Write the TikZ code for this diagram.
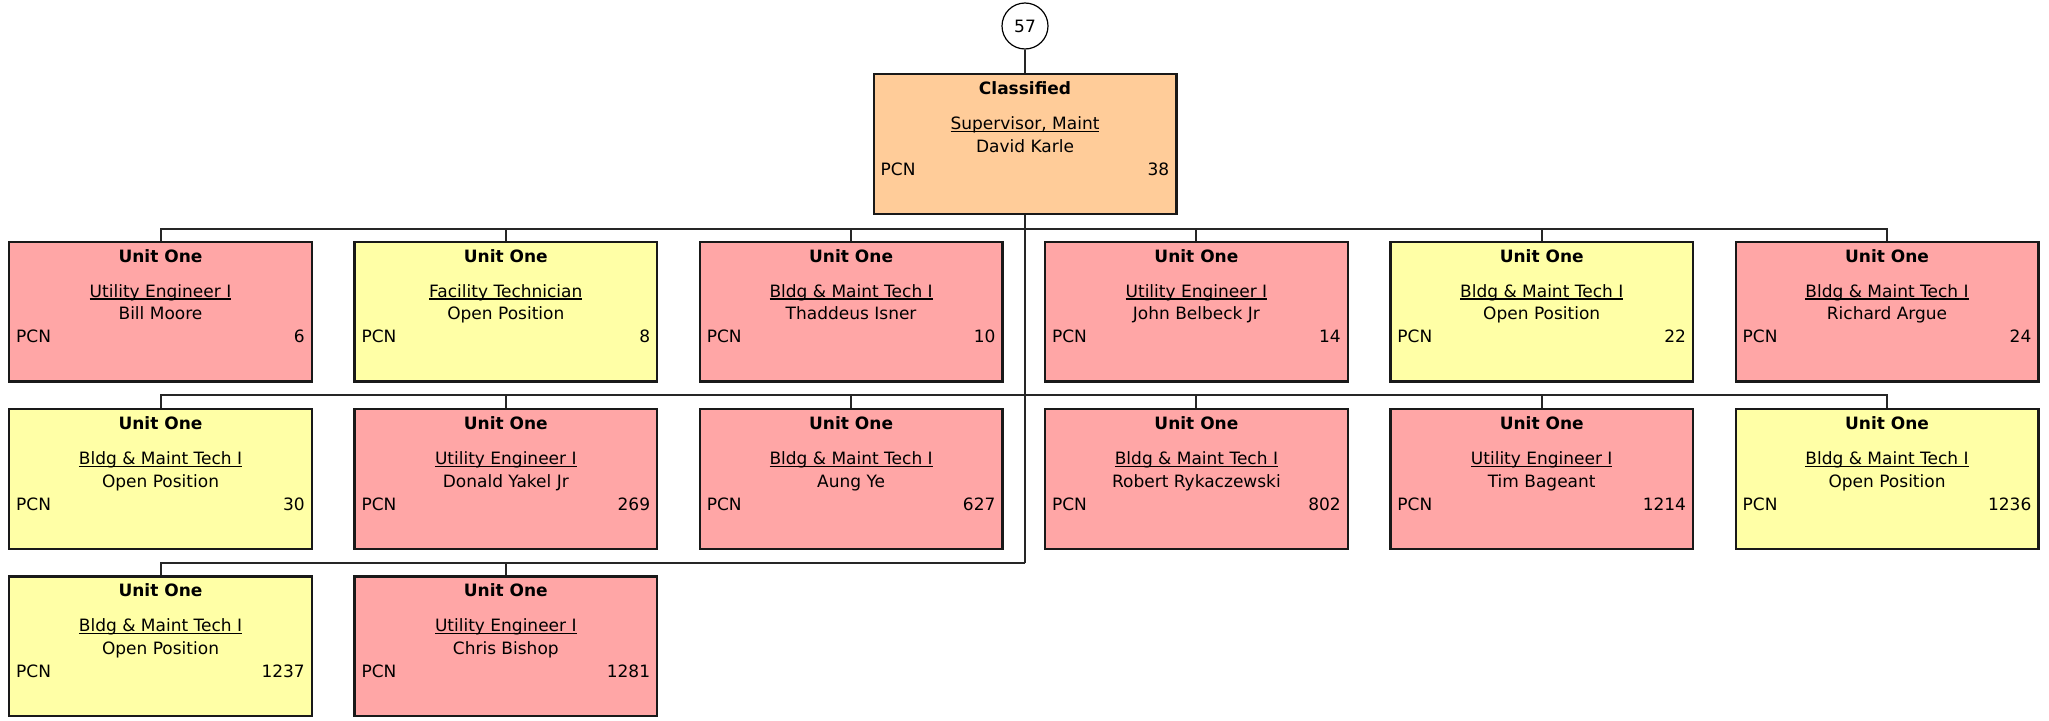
\documentclass[tikz,border=0pt]{standalone}
\usepackage{fontspec}
\setmainfont{DejaVu Sans}
\usetikzlibrary{calc}
\definecolor{peachbox}{RGB}{255,204,153}
\definecolor{pinkbox}{RGB}{255,166,166}
\definecolor{yelbox}{RGB}{255,255,166}
\definecolor{edgec}{RGB}{25,25,25}
\newcommand\myul[1]{\setbox0\hbox{#1}\rlap{\rule[-2.6pt]{\wd0}{1.3pt}}\box0}
\tikzset{
  orgbox/.style={draw=edgec, line width=2.4pt, minimum width=302.6pt, minimum height=139.6pt, inner sep=0pt},
  txt/.style={anchor=base, inner sep=0pt, font=\fontsize{17}{20}\selectfont},
  conn/.style={line width=2pt, draw=black!85},
  numcircle/.style={circle, draw=black, line width=1.2pt, minimum size=46pt, inner sep=0pt, fill=white, font=\fontsize{17}{20}\selectfont},
}
% name, x, y, colour, head, title, person, pcn
\newcommand\orgnode[8]{%
  \node[orgbox, fill=#4] (#1) at (#2,#3) {};
  \node[txt, font=\fontsize{17}{20}\selectfont\bfseries] (#1h) at ($(#1.north)+(0,21.4)$) {#5};
  \node[txt] (#1t) at ($(#1.north)+(0,56.4)$) {\myul{#6}};
  \node[txt] (#1p) at ($(#1.north)+(0,79.1)$) {#7};
  \node[txt, anchor=base west] (#1l) at ($(#1.north west)+(8,102.1)$) {PCN};
  \node[txt, anchor=base east] (#1n) at ($(#1.north east)+(-8,102.1)$) {#8};
}
\begin{document}
\begin{tikzpicture}[x=1pt,y=-1pt]
\useasboundingbox (0,0) rectangle (2049,720);
\node[numcircle] (circ) at (1025,26) {57};
\orgnode{top}{1025}{144}{peachbox}{Classified}{Supervisor, Maint}{David Karle}{38}
% row 1
\orgnode{c11}{160.5}{311.7}{pinkbox}{Unit One}{Utility Engineer I}{Bill Moore}{6}
\orgnode{c12}{505.8}{311.7}{yelbox}{Unit One}{Facility Technician}{Open Position}{8}
\orgnode{c13}{851.1}{311.7}{pinkbox}{Unit One}{Bldg \& Maint Tech I}{Thaddeus Isner}{10}
\orgnode{c14}{1196.4}{311.7}{pinkbox}{Unit One}{Utility Engineer I}{John Belbeck Jr}{14}
\orgnode{c15}{1541.7}{311.7}{yelbox}{Unit One}{Bldg \& Maint Tech I}{Open Position}{22}
\orgnode{c16}{1887}{311.7}{pinkbox}{Unit One}{Bldg \& Maint Tech I}{Richard Argue}{24}
% row 2
\orgnode{c21}{160.5}{479}{yelbox}{Unit One}{Bldg \& Maint Tech I}{Open Position}{30}
\orgnode{c22}{505.8}{479}{pinkbox}{Unit One}{Utility Engineer I}{Donald Yakel Jr}{269}
\orgnode{c23}{851.1}{479}{pinkbox}{Unit One}{Bldg \& Maint Tech I}{Aung Ye}{627}
\orgnode{c24}{1196.4}{479}{pinkbox}{Unit One}{Bldg \& Maint Tech I}{Robert Rykaczewski}{802}
\orgnode{c25}{1541.7}{479}{pinkbox}{Unit One}{Utility Engineer I}{Tim Bageant}{1214}
\orgnode{c26}{1887}{479}{yelbox}{Unit One}{Bldg \& Maint Tech I}{Open Position}{1236}
% row 3
\orgnode{c31}{160.5}{646.3}{yelbox}{Unit One}{Bldg \& Maint Tech I}{Open Position}{1237}
\orgnode{c32}{505.8}{646.3}{pinkbox}{Unit One}{Utility Engineer I}{Chris Bishop}{1281}
% connectors
\coordinate (bus1) at (1025,229);
\coordinate (bus2) at (1025,394.6);
\coordinate (bus3) at (1025,562.5);
\draw[conn] (circ.south) -- (top.north);
\draw[conn] (top.south) -- (bus3);
\foreach \c in {c11,c12,c13,c14,c15,c16} {\draw[conn] (bus1) -| (\c.north);}
\foreach \c in {c21,c22,c23,c24,c25,c26} {\draw[conn] (bus2) -| (\c.north);}
\foreach \c in {c31,c32} {\draw[conn] (bus3) -| (\c.north);}
\end{tikzpicture}
\end{document}
